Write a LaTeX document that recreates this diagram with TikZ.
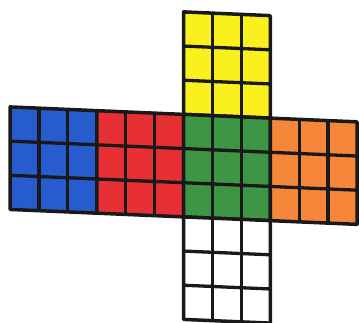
\documentclass[tikz,border=0pt]{standalone}
\definecolor{cblue}{RGB}{38,92,205}
\definecolor{cred}{RGB}{232,48,52}
\definecolor{cgreen}{RGB}{60,150,70}
\definecolor{corange}{RGB}{246,134,58}
\definecolor{cyellow}{RGB}{250,240,30}
\definecolor{cline}{RGB}{25,25,25}
\newcommand{\cubeface}[3]{%
  \fill[#3] (#1,#2) rectangle ++(86.75,102.5);
  \foreach \i in {1,2} {
    \draw[gridline] ({#1+\i*86.75/3},#2) -- ++(0,102.5);
    \draw[gridline] (#1,{#2+\i*102.5/3}) -- ++(86.75,0);
  }
  \draw[outerline] (#1,#2) rectangle ++(86.75,102.5);
}
\begin{document}
\begin{tikzpicture}[x=1pt,y=-1pt,
  gridline/.style={draw=cline,line width=3.3pt},
  outerline/.style={draw=cline,line width=3.5pt,line join=round}]
\useasboundingbox (0,0) rectangle (359,322);
\fill[white] (0,0) rectangle (359,322);
\begin{scope}[yslant=-0.043]
  \cubeface{183.5}{4}{cyellow}
  \cubeface{10}{106.5}{cblue}
  \cubeface{96.75}{106.5}{cred}
  \cubeface{183.5}{106.5}{cgreen}
  \cubeface{270.25}{106.5}{corange}
  \cubeface{183.5}{209}{white}
\end{scope}
\end{tikzpicture}
\end{document}
